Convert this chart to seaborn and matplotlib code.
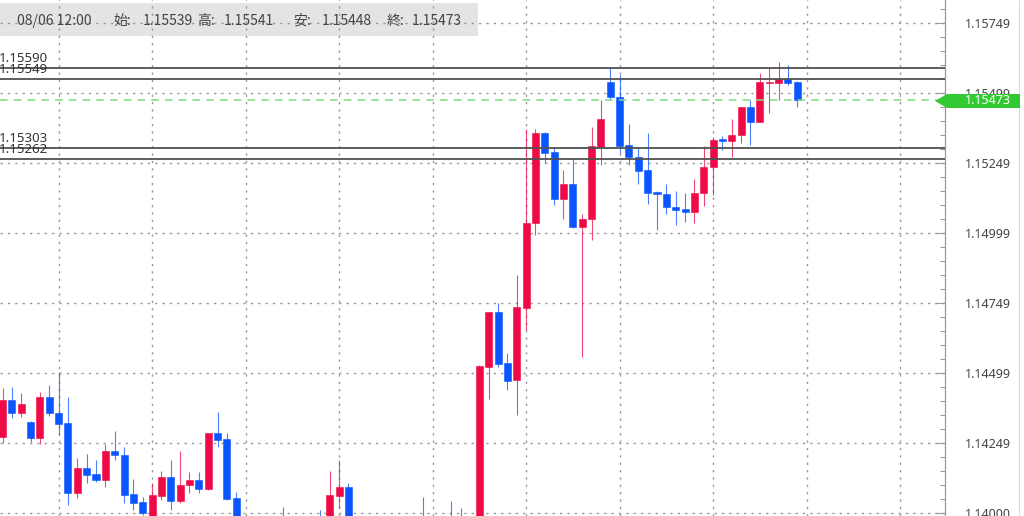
import numpy as np
import pandas as pd
import matplotlib
matplotlib.use("Agg")
import matplotlib.pyplot as plt
import seaborn as sns
from matplotlib.patches import Rectangle, Polygon
from matplotlib.lines import Line2D
from matplotlib.ticker import FixedLocator, FixedFormatter, NullFormatter

# ---------------- data ----------------
opens = [1.14272, 1.14403, 1.14356, 1.14324, 1.14267, 1.14413, 1.14356, 1.14320, 1.14070, 1.14160,
         1.14138, 1.14117, 1.14220, 1.14206, 1.14067, 1.14038, 1.13981, 1.14060, 1.14128, 1.14042,
         1.14099, 1.14117, 1.14085, 1.14285, 1.14263, 1.14053, 1.13950, 1.13920, 1.13940, 1.13910,
         1.13975, 1.13930, 1.13900, 1.13925, 1.13975, 1.13940, 1.14060, 1.14092, 1.13950, 1.13930,
         1.13915, 1.13935, 1.13920, 1.13940, 1.13925, 1.13945, 1.13975, 1.13945, 1.13970, 1.13940,
         1.13920, 1.13940, 1.14520, 1.14717, 1.14535, 1.14474, 1.14731, 1.15035, 1.15356, 1.15288,
         1.15120, 1.15174, 1.15020, 1.15049, 1.15306, 1.15538, 1.15485, 1.15313, 1.15270, 1.15224,
         1.15145, 1.15138, 1.15092, 1.15085, 1.15074, 1.15142, 1.15235, 1.15335, 1.15328, 1.15349,
         1.15449, 1.15395, 1.15535, 1.15535, 1.15549, 1.15539]
highs = [1.14445, 1.14449, 1.14428, 1.14328, 1.14431, 1.14456, 1.14503, 1.14413, 1.14195, 1.14210,
         1.14188, 1.14245, 1.14292, 1.14235, 1.14120, 1.14056, 1.14106, 1.14149, 1.14188, 1.14220,
         1.14145, 1.14145, 1.14285, 1.14360, 1.14285, 1.14074, 1.13965, 1.13960, 1.13970, 1.13950,
         1.14020, 1.13965, 1.13950, 1.13970, 1.14010, 1.14149, 1.14188, 1.14106, 1.13975, 1.13960,
         1.13950, 1.13970, 1.13955, 1.13975, 1.13960, 1.14056, 1.13980, 1.13975, 1.14042, 1.14017,
         1.13960, 1.14528, 1.14717, 1.14749, 1.14570, 1.14849, 1.15370, 1.15370, 1.15360, 1.15306,
         1.15224, 1.15263, 1.15067, 1.15378, 1.15474, 1.15588, 1.15563, 1.15388, 1.15306, 1.15356,
         1.15149, 1.15174, 1.15149, 1.15142, 1.15192, 1.15310, 1.15342, 1.15345, 1.15406, 1.15449,
         1.15474, 1.15570, 1.15592, 1.15610, 1.15599, 1.15541]
lows = [1.14249, 1.14338, 1.14342, 1.14253, 1.14245, 1.14345, 1.14278, 1.14028, 1.14053, 1.14106,
        1.14110, 1.14092, 1.14188, 1.14035, 1.14010, 1.13992, 1.13970, 1.14045, 1.14010, 1.14035,
        1.14070, 1.14070, 1.14081, 1.14235, 1.14045, 1.13930, 1.13900, 1.13880, 1.13890, 1.13870,
        1.13900, 1.13880, 1.13860, 1.13890, 1.13910, 1.13920, 1.14017, 1.13930, 1.13900, 1.13890,
        1.13880, 1.13900, 1.13885, 1.13905, 1.13890, 1.13920, 1.13920, 1.13910, 1.13910, 1.13890,
        1.13880, 1.13920, 1.14406, 1.14520, 1.14438, 1.14349, 1.14653, 1.14992, 1.15249, 1.15099,
        1.15049, 1.15017, 1.14556, 1.14974, 1.15242, 1.15474, 1.15285, 1.15242, 1.15174, 1.15103,
        1.15010, 1.15067, 1.15028, 1.15038, 1.15035, 1.15095, 1.15135, 1.15295, 1.15270, 1.15320,
        1.15313, 1.15395, 1.15428, 1.15474, 1.15528, 1.15448]
closes = [1.14403, 1.14357, 1.14388, 1.14267, 1.14413, 1.14356, 1.14317, 1.14070, 1.14160, 1.14135,
          1.14117, 1.14220, 1.14206, 1.14063, 1.14035, 1.13999, 1.14063, 1.14128, 1.14042, 1.14099,
          1.14117, 1.14085, 1.14285, 1.14260, 1.14049, 1.13950, 1.13920, 1.13940, 1.13910, 1.13930,
          1.13930, 1.13900, 1.13925, 1.13950, 1.13940, 1.14063, 1.14092, 1.13950, 1.13930, 1.13915,
          1.13935, 1.13920, 1.13940, 1.13925, 1.13945, 1.13975, 1.13945, 1.13960, 1.13940, 1.13920,
          1.13940, 1.14524, 1.14717, 1.14531, 1.14470, 1.14735, 1.15035, 1.15356, 1.15285, 1.15120,
          1.15174, 1.15020, 1.15049, 1.15310, 1.15406, 1.15485, 1.15310, 1.15270, 1.15220, 1.15142,
          1.15138, 1.15092, 1.15081, 1.15074, 1.15142, 1.15235, 1.15331, 1.15328, 1.15349, 1.15449,
          1.15395, 1.15538, 1.15538, 1.15549, 1.15535, 1.15473]

level_prices = [1.15590, 1.15549, 1.15303, 1.15262]
level_labels = ["1.15590", "1.15549", "1.15303", "1.15262"]
current_price = 1.15473
current_label = "1.15473"

ytick_values = [1.15749, 1.15499, 1.15249, 1.14999, 1.14749, 1.14499, 1.14249, 1.14000]
ytick_labels = ["1.15749", "1.15499", "1.15249", "1.14999", "1.14749", "1.14499", "1.14249", "1.14000"]

info_texts = ["08/06 12:00", "始:", "1.15539", "高:", "1.15541", "安:", "1.15448", "終:", "1.15473"]

# ---------------- styling ----------------
W, H = 1024, 516
sns.set_theme(style="white")
plt.rcParams['font.family'] = ['Noto Sans', 'DejaVu Sans']

UP = '#ee0a46'
DOWN = '#0a55ff'

df = pd.DataFrame({"open": opens, "high": highs, "low": lows, "close": closes})
df["idx"] = np.arange(len(df))
df["up"] = df["close"] >= df["open"]
df["color"] = np.where(df["up"], UP, DOWN)
df["bottom"] = df[["open", "close"]].min(axis=1)
df["height"] = (df["close"] - df["open"]).abs().clip(lower=0.00005)

fig = plt.figure(figsize=(W / 100, H / 100), dpi=100)
fig.patch.set_facecolor('white')

def fx(px):
    return px / W

def fy(py):
    return 1 - py / H

ax = fig.add_axes([0, 0, 945 / W, 1])
ax.set_facecolor('white')

# wicks + bodies
ax.vlines(df["idx"], df["low"], df["high"], colors=df["color"], lw=0.8, alpha=0.75, zorder=2)
ax.bar(df["idx"], df["height"], bottom=df["bottom"], width=0.75, color=df["color"],
       edgecolor=df["color"], linewidth=0.4, zorder=3)

# limits mapping: price 1.15749 at py=23, 28000 px per unit
ax.set_ylim(1.15749 - (H - 23) / 28000, 1.15749 + 23 / 28000)
ax.set_xlim(-2.5 / 9.35, (945 - 2.5) / 9.35)

# axes
for s in ['top', 'left', 'bottom']:
    ax.spines[s].set_visible(False)
ax.spines['right'].set_color('#9a9a9a')
ax.spines['right'].set_linewidth(0.9)

ax.xaxis.set_major_locator(FixedLocator(list(range(6, 101, 10))))
ax.xaxis.set_major_formatter(NullFormatter())
ax.tick_params(axis='x', length=0, labelbottom=False)

ax.yaxis.tick_right()
ax.yaxis.set_major_locator(FixedLocator(ytick_values))
ax.yaxis.set_major_formatter(FixedFormatter(ytick_labels))
ax.yaxis.set_minor_locator(FixedLocator(list(np.arange(1.15849, 1.1385, -0.0005))))
ax.tick_params(axis='y', which='major', direction='in', length=7, width=0.8, color='#9a9a9a',
               pad=14.4, labelsize=9, labelcolor='#444444', right=True, left=False)
ax.tick_params(axis='y', which='minor', direction='in', length=3.6, width=0.8, color='#9a9a9a',
               right=True, left=False)

ax.set_axisbelow(True)
ax.grid(True, which='major', color='#9a9a9a', linestyle=(0, (1.7, 3.6)), linewidth=1.0)

# info bar (under grid)
ax.add_patch(Rectangle((0, fy(36)), 478 / 945, (36 - 3) / H, transform=ax.transAxes,
                       facecolor='#e4e4e4', edgecolor='none', zorder=0.2))
info_x = [17, 113, 143, 197, 224, 293, 322, 387, 412]
for t, px in zip(info_texts, info_x):
    fig.text(fx(px), fy(21), t, fontsize=10, color='#444444', va='center', ha='left',
             family=['Noto Sans CJK JP', 'DejaVu Sans'], zorder=6)

# horizontal levels
for p, lab in zip(level_prices, level_labels):
    ax.axhline(p, color='#505050', lw=1.3, zorder=4)
    ax.annotate(lab, xy=(-0.001, p), xycoords=('axes fraction', 'data'), xytext=(0, 4.3),
                textcoords='offset points', va='baseline', ha='left', fontsize=9.5,
                color='#333333', zorder=5)

# current price dashed line
ax.axhline(current_price, color='#7fdc7f', lw=1.1, linestyle=(0, (5, 4)), zorder=4)

# price tag on the right axis
tag = Polygon([(fx(935), fy(101)), (fx(947), fy(94)), (fx(1020), fy(94)),
               (fx(1020), fy(108)), (fx(947), fy(108))], closed=True,
              transform=fig.transFigure, facecolor='#33c933', edgecolor='none', zorder=5)
fig.add_artist(tag)
fig.text(fx(965), fy(101), current_label, color='white', fontsize=9, va='center', ha='left', zorder=6)

# right border
fig.add_artist(Line2D([fx(1019), fx(1019)], [0, 1], transform=fig.transFigure,
                      color='#dcdcdc', lw=0.8))

fig.savefig("out.png", dpi=100)
